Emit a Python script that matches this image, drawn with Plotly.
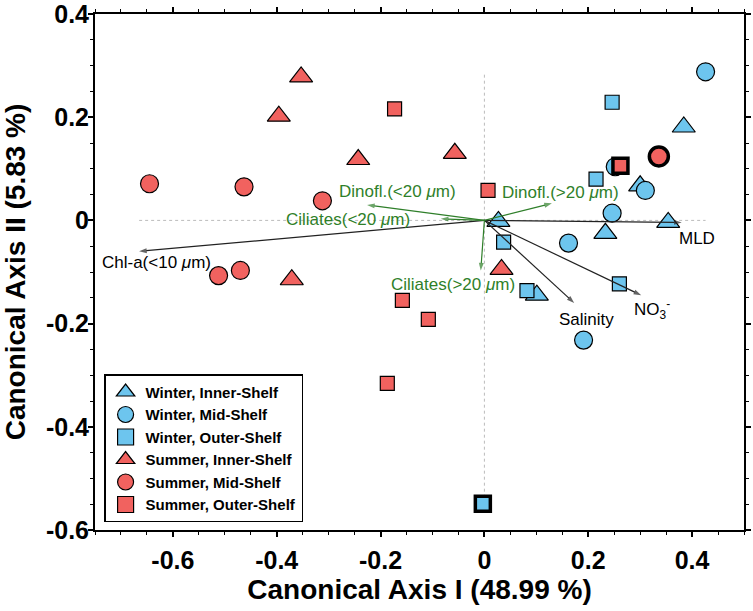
import plotly.graph_objects as go

# ---------------- data ----------------
winter_inner_x = [0.384, 0.300, 0.027, 0.233, 0.354, 0.101]
winter_inner_y = [0.181, 0.067, -0.002, -0.025, -0.004, -0.145]
winter_mid_x = [0.426, 0.252, 0.310, 0.246, 0.162, 0.191]
winter_mid_y = [0.288, 0.104, 0.058, 0.014, -0.044, -0.232]
winter_outer_x = [0.246, 0.215, 0.037, 0.082, 0.260]
winter_outer_y = [0.229, 0.080, -0.042, -0.136, -0.123]
winter_outer_bold_x = [-0.003]
winter_outer_bold_y = [-0.549]
summer_inner_x = [-0.353, -0.396, -0.243, -0.057, -0.371, 0.033]
summer_inner_y = [0.278, 0.202, 0.118, 0.130, -0.115, -0.095]
summer_mid_x = [-0.645, -0.463, -0.312, -0.512, -0.470]
summer_mid_y = [0.071, 0.065, 0.038, -0.107, -0.097]
summer_mid_bold_x = [0.336]
summer_mid_bold_y = [0.124]
summer_outer_x = [-0.173, 0.007, -0.158, -0.108, -0.187]
summer_outer_y = [0.216, 0.058, -0.155, -0.192, -0.316]
summer_outer_bold_x = [0.262]
summer_outer_bold_y = [0.106]

# environmental vectors (black)
env_names = ["MLD", "Chl-a(&lt;10 <i>μ</i>m)", "Salinity", "NO<sub>3</sub><sup>-</sup>"]
env_x = [0.380, -0.665, 0.173, 0.302]
env_y = [-0.004, -0.060, -0.160, -0.145]
env_label_x = [0.370, -0.741, 0.197, 0.323]
env_label_y = [-0.035, -0.082, -0.192, -0.172]
env_label_anchor = ["left", "left", "center", "center"]

# biological vectors (green)
bio_names = ["Dinofl.(&lt;20 <i>μ</i>m)", "Ciliates(&lt;20 <i>μ</i>m)",
             "Dinofl.(&gt;20 <i>μ</i>m)", "Ciliates(&gt;20 <i>μ</i>m)"]
bio_x = [-0.226, -0.084, 0.130, -0.007]
bio_y = [0.030, 0.003, 0.033, -0.097]
bio_label_x = [-0.050, -0.140, 0.030, 0.062]
bio_label_y = [0.056, 0.002, 0.055, -0.125]
bio_label_anchor = ["right", "right", "left", "right"]

x_ticks = [-0.6, -0.4, -0.2, 0, 0.2, 0.4]
x_ticktext = ["-0.6", "-0.4", "-0.2", "0", "0.2", "0.4"]
y_ticks = [-0.6, -0.4, -0.2, 0, 0.2, 0.4]
y_ticktext = ["-0.6", "-0.4", "-0.2", "0", "0.2", "0.4"]

BLUE = "#6DC5EE"
RED = "#F1625F"
GREEN = "#2F7F2A"
FONT = "Liberation Sans, Arial, sans-serif"

fig = go.Figure()

# dotted zero lines spanning the data extent
all_x = winter_inner_x + winter_mid_x + winter_outer_x + summer_inner_x + summer_mid_x + summer_outer_x + env_x
all_y = (winter_inner_y + winter_mid_y + winter_outer_y + winter_outer_bold_y + summer_inner_y
         + summer_mid_y + summer_outer_y)
fig.add_shape(type="line", x0=min(all_x), x1=max(all_x), y0=0, y1=0, xref="x", yref="y",
              line=dict(color="#bbbbbb", width=1, dash="dot"), layer="below")
fig.add_shape(type="line", x0=0, x1=0, y0=min(all_y), y1=max(all_y), xref="x", yref="y",
              line=dict(color="#bbbbbb", width=1, dash="dot"), layer="below")

def add(x, y, name, symbol, color, size, lw=1.2, legend=True):
    fig.add_trace(go.Scatter(
        x=x, y=y, mode="markers", name=name, showlegend=legend,
        marker=dict(symbol=symbol, color=color, size=size,
                    line=dict(color="black", width=lw))))

add(summer_inner_x, summer_inner_y, "Summer, Inner-Shelf", "triangle-up", RED, 20, legend=False)
add(summer_mid_x, summer_mid_y, "Summer, Mid-Shelf", "circle", RED, 18, legend=False)
add(summer_outer_x, summer_outer_y, "Summer, Outer-Shelf", "square", RED, 14, legend=False)
add(winter_inner_x, winter_inner_y, "Winter, Inner-Shelf", "triangle-up", BLUE, 20, legend=False)
add(winter_mid_x, winter_mid_y, "Winter, Mid-Shelf", "circle", BLUE, 18, legend=False)
add(winter_outer_x, winter_outer_y, "Winter, Outer-Shelf", "square", BLUE, 14, legend=False)
add(winter_outer_bold_x, winter_outer_bold_y, "bold1", "square", BLUE, 15, lw=3.5, legend=False)
add(summer_mid_bold_x, summer_mid_bold_y, "bold2", "circle", RED, 19, lw=3.5, legend=False)
add(summer_outer_bold_x, summer_outer_bold_y, "bold3", "square", RED, 15, lw=3.5, legend=False)

# vectors drawn as line traces with arrow-head markers
def add_vector(x1, y1, color):
    fig.add_trace(go.Scatter(
        x=[0, x1], y=[0, y1], mode="lines+markers", showlegend=False, hoverinfo="skip",
        line=dict(color=color, width=1.2),
        marker=dict(symbol=["circle", "arrow"], size=[0, 8], color=color,
                    angleref="previous", line=dict(width=0))))

for i in range(len(env_x)):
    add_vector(env_x[i], env_y[i], "#222222")
    fig.add_annotation(x=env_label_x[i], y=env_label_y[i], xref="x", yref="y",
                       text=env_names[i], showarrow=False, xanchor=env_label_anchor[i],
                       font=dict(family=FONT, size=17, color="black"))
for i in range(len(bio_x)):
    add_vector(bio_x[i], bio_y[i], GREEN)
    fig.add_annotation(x=bio_label_x[i], y=bio_label_y[i], xref="x", yref="y",
                       text=bio_names[i], showarrow=False, xanchor=bio_label_anchor[i],
                       font=dict(family=FONT, size=17, color=GREEN))

# legend entries (in legend order)
legend_items = [("Winter, Inner-Shelf", "triangle-up", BLUE),
                ("Winter, Mid-Shelf", "circle", BLUE),
                ("Winter, Outer-Shelf", "square", BLUE),
                ("Summer, Inner-Shelf", "triangle-up", RED),
                ("Summer, Mid-Shelf", "circle", RED),
                ("Summer, Outer-Shelf", "square", RED)]
for nm, sym, col in legend_items:
    fig.add_trace(go.Scatter(x=[None], y=[None], mode="markers", name=nm,
                             marker=dict(symbol=sym, color=col, size=16,
                                         line=dict(color="black", width=1.2))))

axis_common = dict(
    showgrid=False, zeroline=False, showline=True, linecolor="black", linewidth=2,
    mirror="allticks", ticks="outside", ticklen=5, tickwidth=1.5, tickcolor="black",
    minor=dict(dtick=0.05, ticks="outside", ticklen=3, tickwidth=1.2, tickcolor="black"),
    tickfont=dict(family=FONT, size=25, color="black", weight="bold"),
    automargin=False, ticklabeloverflow="allow",
)
fig.update_xaxes(range=[-0.75, 0.5], tickvals=x_ticks, ticktext=x_ticktext,
                 ticklabelstandoff=2,
                 title=dict(text="Canonical Axis I (48.99 %)", standoff=0,
                            font=dict(family=FONT, size=28, color="black", weight="bold")),
                 **axis_common)
fig.update_yaxes(range=[-0.6, 0.4], tickvals=y_ticks, ticktext=y_ticktext,
                 ticklabelstandoff=-6,
                 title=dict(text="Canonical Axis II (5.83 %)", standoff=18,
                            font=dict(family=FONT, size=28, color="black", weight="bold")),
                 **axis_common)

fig.update_layout(
    width=753, height=611,
    margin=dict(l=95, r=9, t=14, b=81),
    plot_bgcolor="white", paper_bgcolor="white",
    legend=dict(x=0.014, y=0.015, xanchor="left", yanchor="bottom",
                bgcolor="white", bordercolor="black", borderwidth=1.5,
                tracegroupgap=0, itemwidth=30,
                font=dict(family=FONT, size=15, color="black", weight="bold")),
)

fig.write_html("out.html")
